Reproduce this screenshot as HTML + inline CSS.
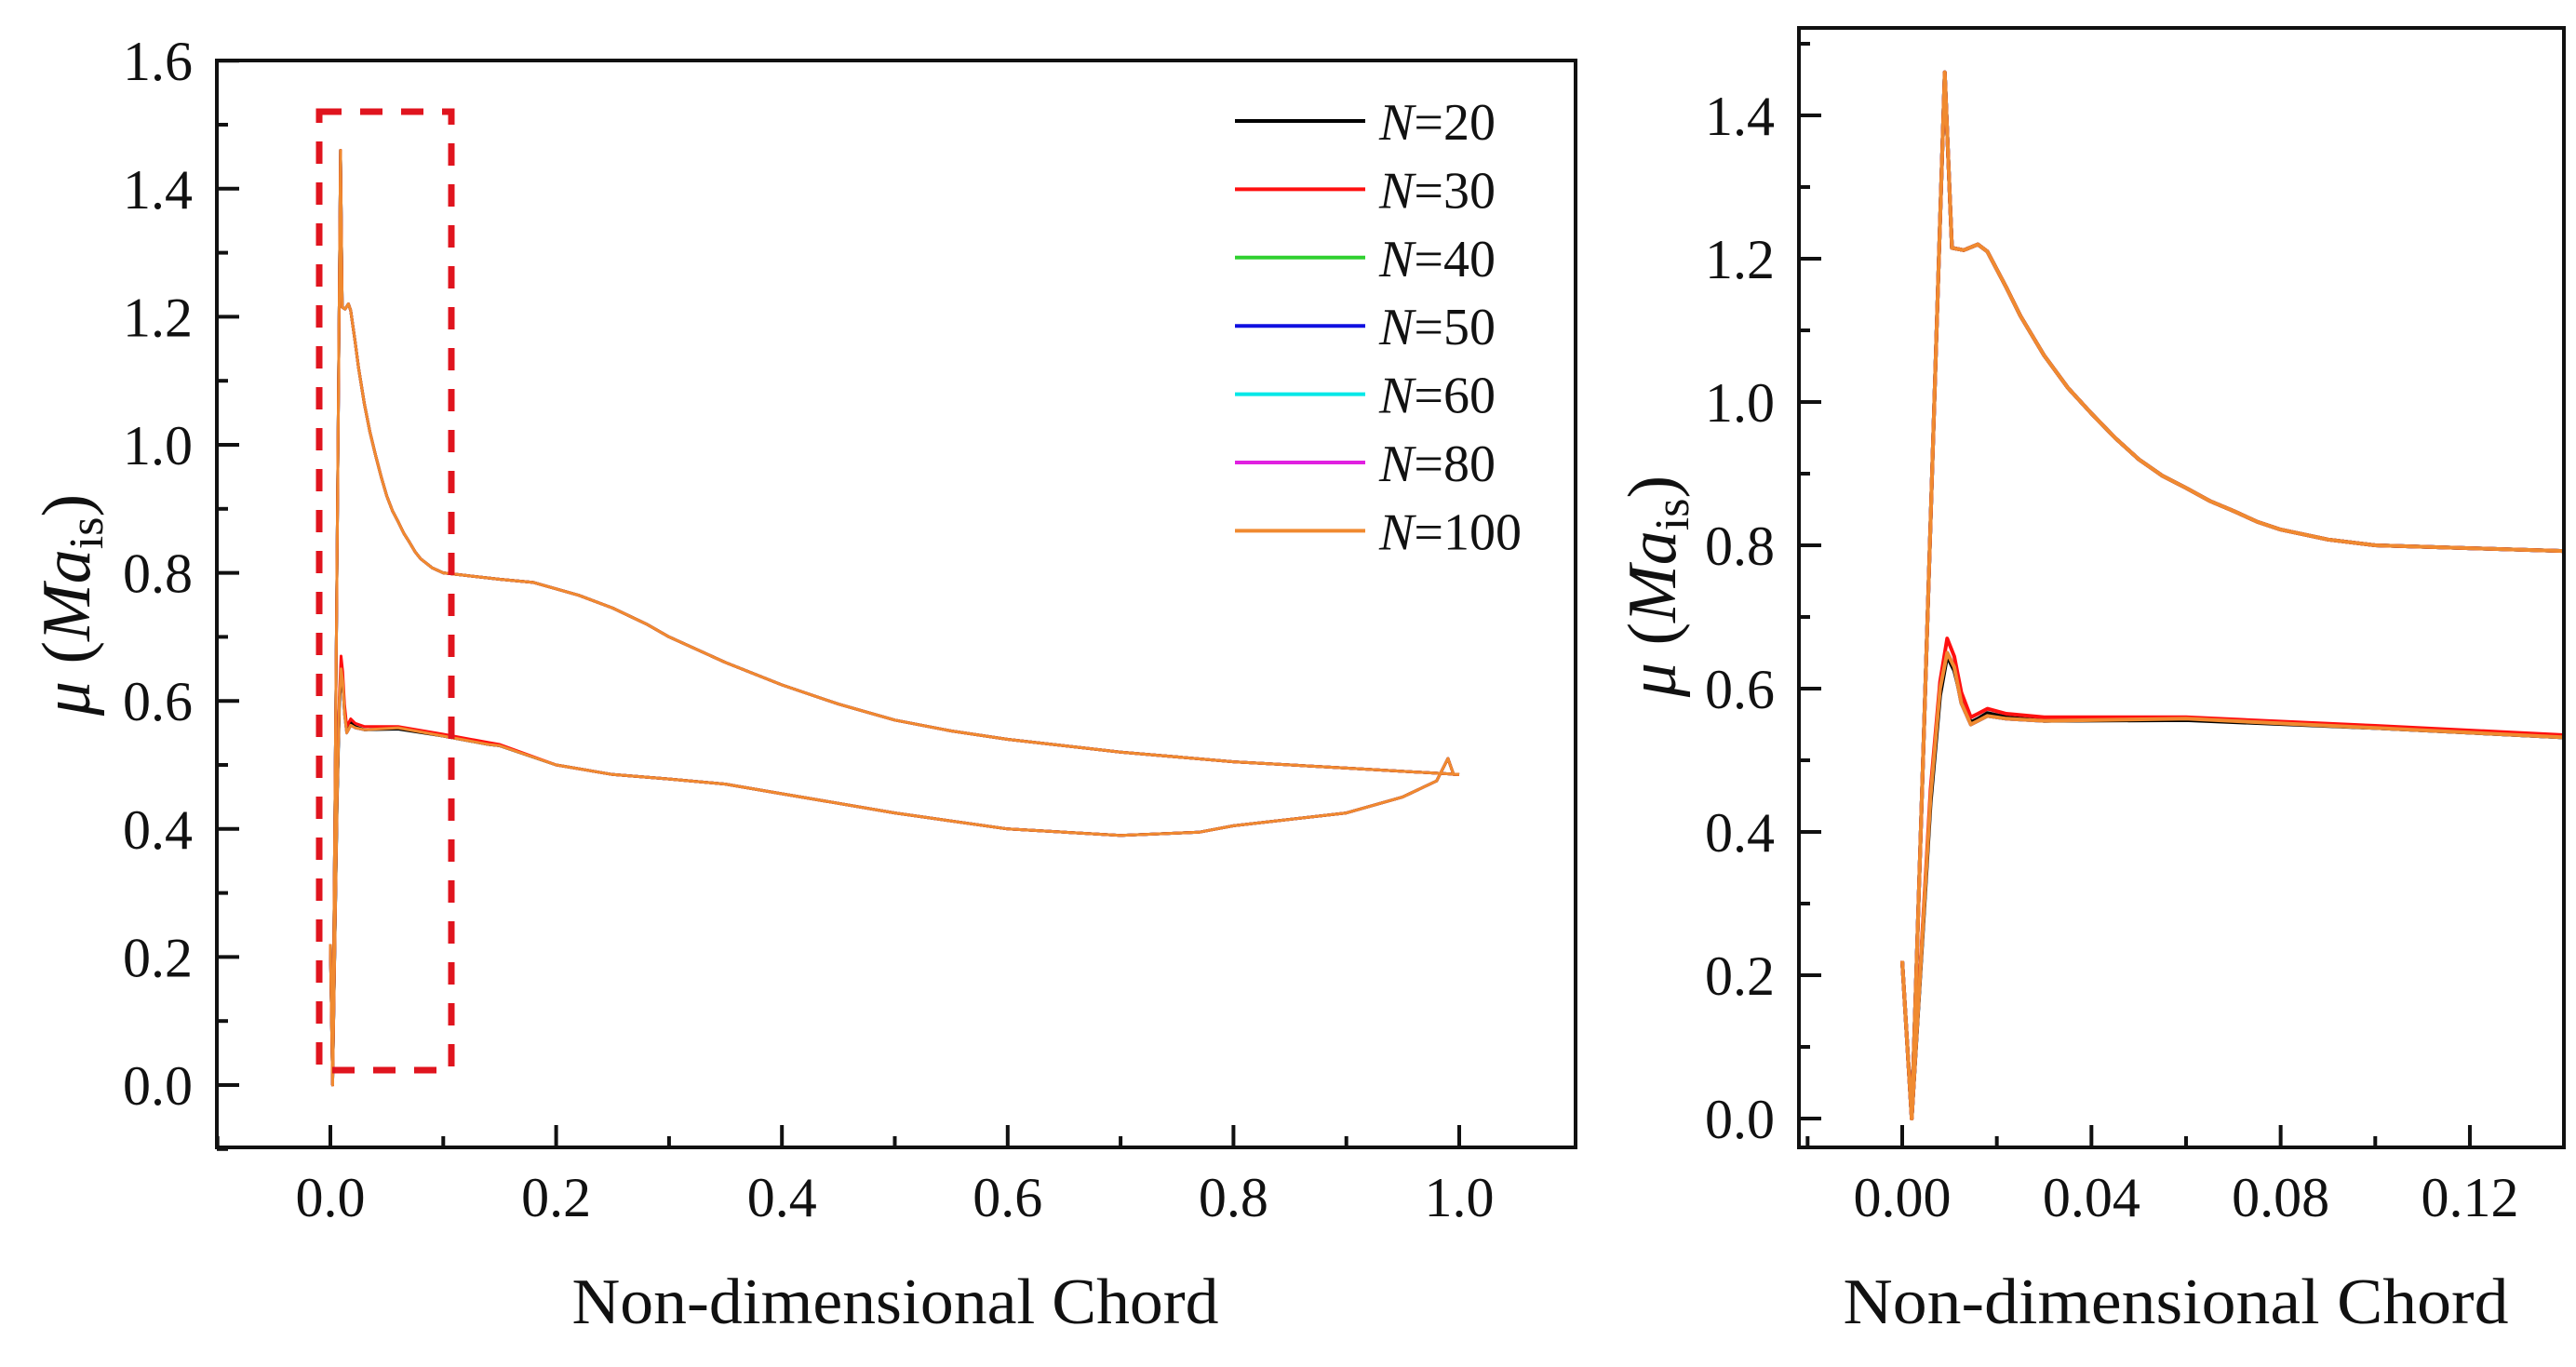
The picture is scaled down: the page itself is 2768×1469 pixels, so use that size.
<!DOCTYPE html>
<html><head><meta charset="utf-8"><style>
html,body{margin:0;padding:0;background:#fff;}
svg{display:block;font-family:"Liberation Serif",serif;}
</style></head><body>
<svg id="chart" width="2768" height="1469" viewBox="0 0 2768 1469" xmlns="http://www.w3.org/2000/svg">
<defs>
<clipPath id="clipL"><rect x="233" y="65" width="1460" height="1168"/></clipPath>
<clipPath id="clipR"><rect x="1933" y="30" width="822" height="1203"/></clipPath>
</defs>
<g id="left"></g>
<g id="right"></g>
</svg>
<script>
// ---- data ----
const seriesNames = ["N=20","N=30","N=40","N=50","N=60","N=80","N=100"];
const seriesColors = ["#000000","#ff1010","#30d030","#1010e0","#00e8e8","#e020e0","#f08a30"];
const upperX = [0,0.002,0.009,0.0105,0.013,0.016,0.018,0.022,0.025,0.03,0.035,0.04,0.045,0.05,0.055,0.06,0.065,0.07,0.075,0.08,0.09,0.1,0.12,0.14,0.15,0.18,0.2,0.22,0.25,0.28,0.3,0.35,0.4,0.45,0.5,0.55,0.6,0.65,0.7,0.8,0.9,1.0];
const upperY = [0.22,0.0,1.46,1.215,1.212,1.22,1.21,1.16,1.12,1.065,1.02,0.984,0.95,0.92,0.897,0.88,0.862,0.848,0.833,0.822,0.808,0.80,0.796,0.792,0.79,0.785,0.775,0.765,0.745,0.72,0.70,0.66,0.625,0.595,0.57,0.553,0.54,0.53,0.52,0.505,0.495,0.485];
const lowerX = [0.002,0.006,0.008,0.0095,0.011,0.0125,0.0145,0.016,0.018,0.022,0.03,0.06,0.1,0.14,0.15,0.2,0.25,0.3,0.35,0.4,0.5,0.6,0.7,0.77,0.8,0.9,0.95,0.98,0.99,0.995,1.0];
const lowerY = [0.0,0.45,0.60,0.65,0.63,0.58,0.55,0.555,0.562,0.558,0.555,0.558,0.545,0.532,0.53,0.50,0.485,0.478,0.47,0.455,0.425,0.40,0.39,0.395,0.405,0.425,0.45,0.475,0.51,0.485,0.485];
const lowerY20 = [0.0,0.44,0.59,0.645,0.625,0.585,0.553,0.558,0.566,0.56,0.555,0.556,0.545,0.532,0.53,0.50,0.485,0.478,0.47,0.455,0.425,0.40,0.39,0.395,0.405,0.425,0.45,0.475,0.51,0.485,0.485];
const lowerY30 = [0.0,0.46,0.61,0.67,0.645,0.595,0.56,0.565,0.572,0.565,0.56,0.56,0.548,0.535,0.532,0.50,0.485,0.478,0.47,0.455,0.425,0.40,0.39,0.395,0.405,0.425,0.45,0.475,0.51,0.485,0.485];
const leftXTicks = [0.0,0.2,0.4,0.6,0.8,1.0];
const leftXLabels = ["0.0","0.2","0.4","0.6","0.8","1.0"];
const leftYTicks = [0.0,0.2,0.4,0.6,0.8,1.0,1.2,1.4,1.6];
const leftYLabels = ["0.0","0.2","0.4","0.6","0.8","1.0","1.2","1.4","1.6"];
const rightXTicks = [0.00,0.04,0.08,0.12];
const rightXLabels = ["0.00","0.04","0.08","0.12"];
const rightYTicks = [0.0,0.2,0.4,0.6,0.8,1.0,1.2,1.4];
const rightYLabels = ["0.0","0.2","0.4","0.6","0.8","1.0","1.2","1.4"];

const NS="http://www.w3.org/2000/svg";
function mk(tag,attrs,parent){const e=document.createElementNS(NS,tag);for(const k in attrs)e.setAttribute(k,attrs[k]);parent.appendChild(e);return e;}

function panel(g,cfg){
  const sx=v=>cfg.x0px+(v-cfg.x0v)*cfg.xs;
  const sy=v=>cfg.y0px-(v-cfg.y0v)*cfg.ys;
  const sg=mk('g',{'clip-path':cfg.clip},g);
  
  
  const order=[2,3,4,5,0,1,6];
  order.forEach(i=>{
    const ly = i===0?lowerY20:(i===1?lowerY30:lowerY);
    const pu=upperX.map((x,j)=>sx(x).toFixed(1)+','+sy(upperY[j]).toFixed(1)).join(' ');
    const pl=lowerX.map((x,j)=>sx(x).toFixed(1)+','+sy(ly[j]).toFixed(1)).join(' ');
    const a=mk('polyline',{points:pu,fill:'none',stroke:seriesColors[i],'stroke-width':cfg.lw,'stroke-linejoin':'round'},sg);
    
    
    const b=mk('polyline',{points:pl,fill:'none',stroke:seriesColors[i],'stroke-width':cfg.lw,'stroke-linejoin':'round'},sg);
    
    
  });
  const fr=mk('rect',{x:cfg.L,y:cfg.T,width:cfg.R-cfg.L,height:cfg.B-cfg.T,fill:'none',stroke:'#111','stroke-width':4},g);
  
  
  cfg.xMinor.forEach(v=>{const t=mk('line',{x1:sx(v),x2:sx(v),y1:cfg.B,y2:cfg.B-12,stroke:'#111','stroke-width':4},g);
    });
  cfg.xt.forEach((v,i)=>{
    const t=mk('line',{x1:sx(v),x2:sx(v),y1:cfg.B,y2:cfg.B-24,stroke:'#111','stroke-width':4},g);
    
    const l=mk('text',{x:sx(v),y:1307,'font-size':60,'text-anchor':'middle',fill:'#111'},g);
    l.textContent=cfg.xl[i];
    
  });
  cfg.yMinor.forEach(v=>{const t=mk('line',{x1:cfg.L,x2:cfg.L+12,y1:sy(v),y2:sy(v),stroke:'#111','stroke-width':4},g);
    });
  cfg.yt.forEach((v,i)=>{
    const t=mk('line',{x1:cfg.L,x2:cfg.L+24,y1:sy(v),y2:sy(v),stroke:'#111','stroke-width':4},g);
    
    const l=mk('text',{x:cfg.L-26,y:sy(v)+21,'font-size':60,'text-anchor':'end',fill:'#111'},g);
    l.textContent=cfg.yl[i];
    
  });
  const xt=mk('text',{x:cfg.xtx,y:1422,'font-size':70,'text-anchor':'middle',fill:'#111',textLength:cfg.xtw,lengthAdjust:'spacingAndGlyphs'},g);
  xt.textContent='Non-dimensional Chord';
  
  const yt=mk('text',{x:0,y:0,'font-size':74,'text-anchor':'middle',fill:'#111',transform:'translate('+cfg.ytx+','+cfg.yty+') rotate(-90)'},g);
  
  yt.innerHTML='<tspan font-style="italic">μ</tspan> (<tspan font-style="italic">Ma</tspan><tspan font-size="52" dy="14">is</tspan><tspan dy="-14">)</tspan>';
}

const L=document.getElementById('left');
panel(L,{x0px:355,x0v:0,xs:1213,y0px:1166,y0v:0,ys:688,L:233,R:1693,T:65,B:1233,clip:'url(#clipL)',lw:3,
  xt:leftXTicks,xl:leftXLabels,yt:leftYTicks,yl:leftYLabels,
  xMinor:[-0.1,0.1,0.3,0.5,0.7,0.9],yMinor:[-0.1,0.1,0.3,0.5,0.7,0.9,1.1,1.3,1.5],
  xtx:962,xtw:695,ytx:96,yty:650});
const box=mk('rect',{x:343,y:120,width:142,height:1030,fill:'none',stroke:'#e0141e','stroke-width':7,'stroke-dasharray':'24 20'},L);


const lg=mk('g',{},L);


seriesNames.forEach((n,i)=>{
  const y=130+i*73.4;
  const e=mk('g',{},lg);
  
  
  mk('line',{x1:1327,x2:1467,y1:y,y2:y,stroke:seriesColors[i],'stroke-width':4},e);
  const t=mk('text',{x:1482,y:y+20,'font-size':56,fill:'#111'},e);
  t.innerHTML='<tspan font-style="italic">N</tspan>='+n.slice(2);
});

const R=document.getElementById('right');
panel(R,{x0px:2044,x0v:0,xs:5083,y0px:1202,y0v:0,ys:770,L:1933,R:2755,T:30,B:1233,clip:'url(#clipR)',lw:4,
  xt:rightXTicks,xl:rightXLabels,yt:rightYTicks,yl:rightYLabels,
  xMinor:[-0.02,0.02,0.06,0.10],yMinor:[0.1,0.3,0.5,0.7,0.9,1.1,1.3,1.5],
  xtx:2338,xtw:715,ytx:1800,yty:630});
</script>
</body></html>
